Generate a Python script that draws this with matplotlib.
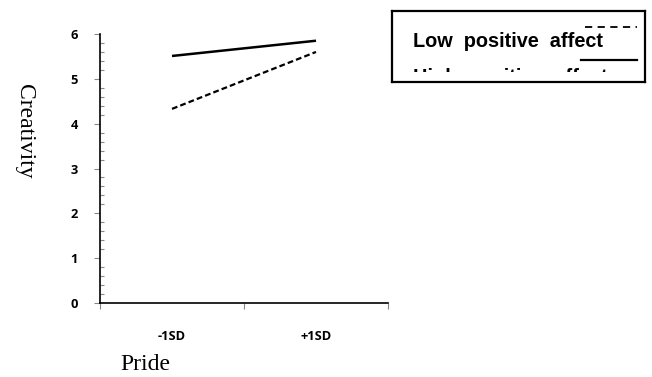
import matplotlib
matplotlib.use("Agg")
import matplotlib.pyplot as plt
from matplotlib.ticker import MultipleLocator, FixedLocator
from matplotlib.transforms import Bbox, TransformedBbox

categories = ["-1SD", "+1SD"]
low_pa = [4.33, 5.60]
high_pa = [5.51, 5.85]
series_labels = ["Low  positive  affect", "High  positive  affect"]
yticks = [0, 1, 2, 3, 4, 5, 6]

W, H = 652, 377
fig = plt.figure(figsize=(W / 100, H / 100), dpi=100)

def fr(x0, y0, x1, y1):
    return [x0 / W, 1 - y1 / H, (x1 - x0) / W, (y1 - y0) / H]

ax = fig.add_axes(fr(100, 34, 388, 303))
xpos = [0.5, 1.5]
ax.plot(xpos, high_pa, color="black", lw=1.8, solid_capstyle="butt")
ax.plot(xpos, low_pa, color="black", lw=1.6, linestyle=(0, (2.6, 1.4)), dash_capstyle="butt")
ax.set_xlim(0, 2)
ax.set_ylim(0, 6)
for s in ["top", "right"]:
    ax.spines[s].set_visible(False)
ax.spines["left"].set_linewidth(1.2)
ax.spines["bottom"].set_linewidth(1.2)

tickfont = dict(family="Open Sans", weight="bold", size=9.3)
ax.set_yticks(yticks)
ax.set_yticklabels([str(v) for v in yticks], **tickfont)
ax.yaxis.set_minor_locator(MultipleLocator(0.2))
ax.tick_params(axis="y", which="major", direction="out", length=4, width=0.8, color="#888888", pad=12)
ax.tick_params(axis="y", which="minor", direction="in", length=3, width=0.8, color="#888888")

ax.xaxis.set_major_locator(FixedLocator([0, 1, 2]))
ax.xaxis.set_minor_locator(FixedLocator(xpos))
ax.set_xticklabels([])
ax.set_xticks(xpos, minor=True)
ax.set_xticklabels(categories, minor=True, **tickfont)
ax.tick_params(axis="x", which="major", direction="out", length=4, width=0.8, color="#888888")
ax.tick_params(axis="x", which="minor", length=0, pad=19.5)

fig.text(24 / W, 1 - 131 / H, "Creativity", rotation=-90, ha="center", va="center",
         family="Liberation Serif", size=17)
fig.text(120 / W, 1 - 365 / H, "Pride", ha="left", va="center",
         family="Liberation Serif", size=17)

# legend box (clipped, as in the original)
lax = fig.add_axes(fr(392, 11, 645, 82))
lax.set_xlim(392, 645)
lax.set_ylim(82, 11)
lax.set_xticks([])
lax.set_yticks([])
for s in lax.spines.values():
    s.set_linewidth(1.6)
lax.plot([585, 637], [27, 27], color="black", lw=1.3, linestyle=(0, (4, 3)))
lax.plot([581, 637], [60, 60], color="black", lw=1.6)
clipbox = TransformedBbox(Bbox([[392 / W, 1 - 72 / H], [645 / W, 1 - 11 / H]]), fig.transFigure)
for yb, lab in zip([47, 83], series_labels):
    t = lax.text(413, yb, lab, ha="left", va="baseline",
                 family="Liberation Sans", weight="bold", size=14.3)
    t.set_clip_on(True)
    t.set_clip_path(None)
    t.set_clip_box(clipbox)

fig.savefig("out.png", dpi=100)
